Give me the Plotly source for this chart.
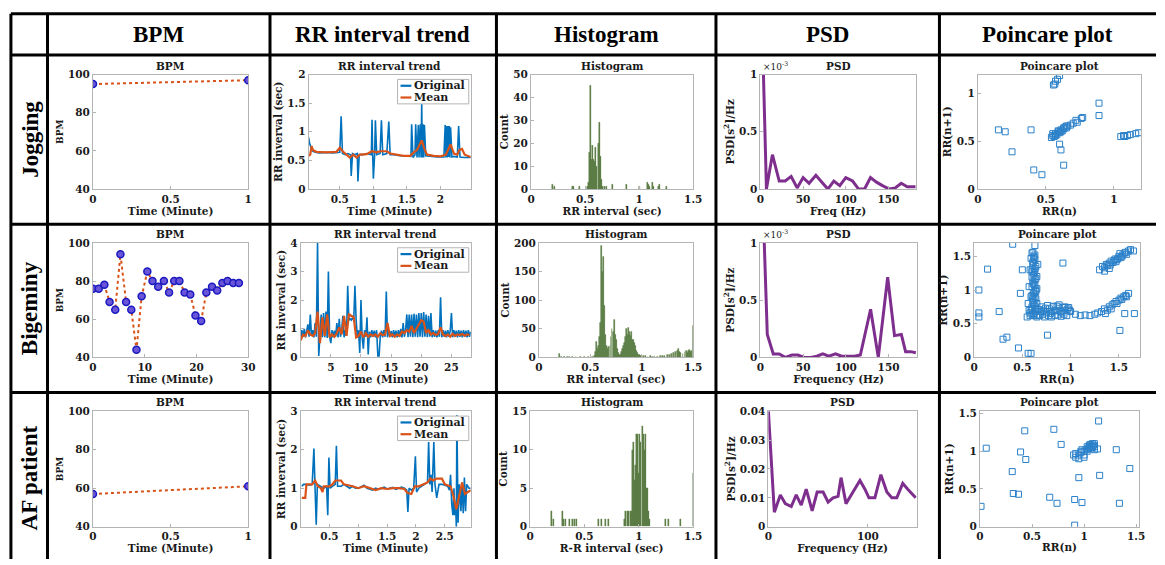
import plotly.graph_objects as go

W, H = 1165, 565
SERIF = "DejaVu Serif"
HEAD = "Liberation Serif"
TXT = "#1a1a1a"

# ------------------------------------------------------------------ data
rows = ["Jogging", "Bigeminy", "AF patient"]
columns = ["BPM", "RR interval trend", "Histogram", "PSD", "Poincare plot"]
legend_names = ["Original", "Mean"]

# BPM
bpm_jog_t = [0, 1]
bpm_jog = [95, 97]
bpm_big_t = [0, 1.1, 2.2, 3.2, 4.3, 5.3, 6.4, 7.4, 8.4, 9.4, 10.5, 11.5, 12.6, 13.7,
             14.7, 15.7, 16.7, 17.7, 18.8, 19.8, 20.9, 21.9, 23.0, 24.0, 25.0, 26.0, 27.1, 28.2]
bpm_big = [76, 76, 78, 69, 65, 94, 69, 65, 44, 72, 85, 80, 77, 80,
           74, 80, 80, 74, 73, 62, 59, 74, 77, 75, 79, 80, 79, 79]
bpm_af_t = [0, 1]
bpm_af = [57, 61]

# RR interval trend - Jogging
rr_jog_t = [0.035, 0.05, 0.08, 0.1, 0.15, 0.2, 0.3, 0.4, 0.5, 0.52, 0.54, 0.58, 0.62, 0.66, 0.67,
            0.69, 0.72, 0.76, 0.77, 0.79, 0.85, 0.9, 0.97, 0.98, 0.99, 1.0, 1.02, 1.03, 1.05, 1.1,
            1.12, 1.14, 1.2, 1.23, 1.25, 1.3, 1.4, 1.5, 1.56, 1.57, 1.59, 1.62, 1.63, 1.65, 1.67,
            1.68, 1.7, 1.71, 1.72, 1.73, 1.74, 1.75, 1.76, 1.78, 1.85, 1.95, 2.05, 2.07, 2.08, 2.09,
            2.1, 2.11, 2.12, 2.13, 2.14, 2.15, 2.17, 2.2, 2.25, 2.27, 2.29, 2.35, 2.45]
rr_jog = [0.9, 0.8, 0.7, 0.66, 0.64, 0.63, 0.64, 0.63, 0.64, 1.27, 0.62, 0.6, 0.62, 0.6, 0.23,
          0.62, 0.6, 0.62, 0.13, 0.6, 0.6, 0.62, 0.6, 1.21, 0.6, 0.18, 0.62, 1.2, 0.6, 0.62,
          1.2, 0.6, 0.62, 1.18, 0.6, 0.6, 0.58, 0.58, 0.57, 1.13, 0.55, 0.6, 1.13, 0.55, 1.12,
          0.55, 1.13, 0.55, 1.5, 0.55, 1.13, 0.55, 1.12, 0.58, 0.57, 0.56, 0.56, 1.12, 0.55, 1.1,
          0.55, 1.1, 0.56, 1.1, 0.55, 1.08, 0.56, 0.57, 0.56, 1.1, 0.56, 0.55, 0.55]
rr_jog_mean_t = [0.035, 0.06, 0.08, 0.1, 0.15, 0.3, 0.45, 0.5, 0.55, 0.6, 0.65, 0.7, 0.75, 0.8,
                 0.9, 0.98, 1.05, 1.1, 1.2, 1.25, 1.35, 1.45, 1.55, 1.6, 1.65, 1.7, 1.72, 1.76,
                 1.8, 1.9, 2.0, 2.08, 2.12, 2.15, 2.2, 2.25, 2.28, 2.32, 2.36, 2.45]
rr_jog_mean = [0.58, 0.6, 0.75, 0.68, 0.65, 0.64, 0.65, 0.72, 0.65, 0.6, 0.55, 0.6, 0.55, 0.6,
               0.61, 0.66, 0.64, 0.66, 0.66, 0.62, 0.6, 0.58, 0.58, 0.64, 0.68, 0.8, 0.85, 0.7,
               0.6, 0.58, 0.57, 0.6, 0.72, 0.78, 0.62, 0.6, 0.68, 0.7, 0.6, 0.56]

# RR interval trend - Bigeminy (one sample every 0.2 min, mean every 0.4 min)
rr_big_step = 0.2
rr_big = [0.62, 0.95, 0.72, 1.00, 0.70, 0.93, 1.15, 0.72, 1.50, 0.75,
          0.95, 0.70, 1.20, 0.72, 4.00, 0.05, 0.90, 1.50, 0.70, 1.55,
          0.70, 1.60, 0.68, 3.00, 0.72, 0.50, 0.95, 0.70, 0.93, 0.72,
          1.20, 0.70, 1.35, 0.72, 0.95, 1.45, 0.70, 0.95, 0.75, 2.50,
          1.30, 1.35, 1.30, 1.38, 1.30, 2.50, 1.30, 0.70, 0.95, 0.15,
          2.00, 0.70, 0.30, 0.95, 0.72, 1.40, 0.10, 0.90, 0.70, 0.95,
          0.72, 0.93, 0.70, 0.95, 0.05, 0.05, 0.72, 0.93, 0.70, 0.95,
          0.72, 2.30, 0.70, 0.95, 0.72, 0.92, 0.70, 0.95, 0.72, 0.93,
          0.70, 0.95, 0.72, 1.00, 0.70, 1.20, 0.72, 0.95, 1.50, 0.70,
          1.50, 0.72, 1.50, 0.70, 1.52, 0.72, 1.50, 0.70, 1.55, 0.72,
          1.55, 0.70, 1.58, 0.72, 1.50, 0.70, 1.45, 0.72, 1.55, 0.70,
          0.95, 0.72, 0.93, 0.70, 0.95, 0.72, 2.10, 0.70, 0.95, 0.72,
          0.93, 0.70, 0.95, 0.72, 0.93, 1.55, 0.70, 0.95, 0.72, 0.93,
          0.70, 0.95, 0.72, 0.93, 0.70, 0.95, 0.72, 0.93, 0.70, 0.95,
          0.72, 0.90]
rr_big_mean_step = 0.4
rr_big_mean = [0.60, 0.80, 0.75, 0.95, 0.80, 0.75, 0.85, 1.60, 0.50, 1.40,
               0.75, 1.50, 0.70, 0.80, 0.72, 0.85, 1.05, 0.80, 1.45, 0.75,
               1.50, 1.45, 1.40, 0.70, 0.75, 0.90, 0.70, 0.85, 0.72, 0.80,
               0.75, 0.80, 0.72, 0.85, 0.78, 0.80, 1.20, 0.75, 0.80, 0.72,
               0.80, 0.75, 0.90, 0.85, 0.95, 0.90, 1.10, 0.85, 1.00, 1.10,
               1.30, 1.25, 0.85, 0.95, 0.80, 0.85, 0.78, 0.82, 1.05, 0.80,
               0.75, 0.80, 0.72, 0.82, 0.75, 0.80, 0.78, 0.82, 0.76, 0.80,
               0.78]

# RR interval trend - AF patient
rr_af_t = [0.02, 0.05, 0.1, 0.15, 0.2, 0.23, 0.25, 0.27, 0.29, 0.35, 0.4, 0.45, 0.47, 0.49, 0.51,
           0.55, 0.6, 0.62, 0.64, 0.7, 0.75, 0.8, 0.85, 0.9, 0.95, 1.0, 1.05, 1.1, 1.15, 1.2,
           1.25, 1.3, 1.35, 1.4, 1.45, 1.5, 1.55, 1.6, 1.65, 1.7, 1.75, 1.8, 1.84, 1.86, 1.88,
           1.92, 1.96, 1.99, 2.01, 2.05, 2.1, 2.15, 2.2, 2.22, 2.24, 2.26, 2.28, 2.31, 2.33, 2.36,
           2.4, 2.45, 2.5, 2.55, 2.58, 2.6, 2.62, 2.64, 2.66, 2.67, 2.69, 2.7, 2.71, 2.73, 2.75,
           2.78, 2.8, 2.82, 2.84, 2.86, 2.88, 2.92, 2.95]
rr_af = [1.05, 1.1, 1.1, 1.08, 1.1, 2.03, 1.0, 0.05, 1.1, 1.05, 1.0, 1.05, 0.3, 1.8, 1.0,
         1.05, 1.1, 2.1, 1.05, 1.05, 1.1, 1.05, 1.0, 1.05, 1.0, 1.0, 1.05, 1.08, 1.0, 0.98,
         0.95, 1.0, 0.97, 1.0, 1.03, 0.98, 1.0, 1.02, 0.97, 1.0, 1.03, 1.0, 0.95, 0.38, 1.0,
         0.95, 1.0, 1.83, 0.9, 1.0, 1.05, 1.1, 1.15, 2.2, 1.1, 1.35, 0.9, 2.2, 1.1, 0.75,
         1.1, 1.1, 1.08, 1.05, 0.95, 1.35, 0.6, 0.3, 1.0, 0.3, 0.5, 0.0, 2.9, 0.1, 1.1,
         0.4, 1.15, 0.35, 1.28, 0.4, 1.1, 1.0, 1.0]
rr_af_mean_t = [0.02, 0.08, 0.1, 0.2, 0.25, 0.3, 0.35, 0.38, 0.4, 0.5, 0.55, 0.6, 0.7, 0.75,
                0.9, 1.0, 1.1, 1.2, 1.3, 1.4, 1.5, 1.6, 1.7, 1.8, 1.85, 1.92, 1.98, 2.05, 2.1,
                2.15, 2.2, 2.25, 2.3, 2.35, 2.45, 2.5, 2.6, 2.65, 2.7, 2.75, 2.8, 2.85, 2.9, 2.95]
rr_af_mean = [0.75, 0.75, 1.1, 1.1, 1.2, 1.05, 1.0, 0.9, 1.05, 1.05, 1.1, 1.2, 1.2, 1.1,
              1.05, 1.0, 1.05, 1.0, 0.95, 1.0, 0.98, 1.0, 1.0, 0.98, 0.88, 0.85, 1.05, 1.05, 1.08,
              1.1, 1.15, 1.25, 1.2, 1.25, 1.25, 1.1, 1.05, 0.8, 0.45, 0.8, 1.15, 0.85, 0.9, 0.95]

# Histograms (bin centre in sec, count)
hist_jog_bin = [0.20, 0.22, 0.38, 0.39, 0.45, 0.52, 0.53, 0.54, 0.55, 0.56, 0.57, 0.58, 0.59,
                0.60, 0.61, 0.62, 0.63, 0.64, 0.65, 0.66, 0.68, 0.70, 0.75, 0.88, 1.00, 1.08,
                1.09, 1.10, 1.12, 1.13, 1.18, 1.19, 1.25]
hist_jog_cnt = [2, 1, 1, 1, 1, 1, 3, 16, 45, 13, 19, 13, 12,
                18, 10, 20, 29, 14, 4, 1, 1, 1, 2, 2, 1, 3,
                2, 1, 3, 1, 1, 2, 1]
hist_big_bin = [0.20, 0.22, 0.25, 0.28, 0.30, 0.33, 0.36, 0.40, 0.44, 0.48, 0.52, 0.54, 0.55,
                0.56, 0.57, 0.58, 0.59, 0.60, 0.61, 0.62, 0.63, 0.64, 0.65, 0.66, 0.67, 0.68,
                0.69, 0.70, 0.71, 0.72, 0.73, 0.74, 0.75, 0.76, 0.77, 0.78, 0.79, 0.80, 0.81,
                0.82, 0.83, 0.84, 0.85, 0.86, 0.87, 0.88, 0.89, 0.90, 0.91, 0.92, 0.93, 0.94,
                0.95, 0.96, 0.97, 0.98, 0.99, 1.00, 1.02, 1.04, 1.06, 1.08, 1.10, 1.12, 1.15,
                1.18, 1.20, 1.22, 1.25, 1.27, 1.29, 1.31, 1.33, 1.35, 1.36, 1.37, 1.38, 1.40,
                1.42, 1.43, 1.44, 1.45, 1.46, 1.47, 1.48, 1.50]
hist_big_cnt = [7, 1, 1, 1, 1, 1, 1, 1, 1, 1, 1, 2, 10,
                27, 15, 20, 35, 60, 195, 150, 175, 90, 40, 20, 15, 18,
                20, 35, 50, 45, 65, 40, 30, 15, 8, 5, 5, 10, 15,
                20, 25, 35, 50, 40, 52, 45, 38, 45, 30, 30, 25, 20,
                12, 8, 5, 4, 3, 3, 2, 2, 1, 2, 1, 1, 1,
                2, 2, 3, 4, 5, 6, 8, 10, 12, 15, 10, 8, 6,
                10, 12, 8, 12, 14, 10, 12, 55]
hist_af_bin = [0.20, 0.22, 0.30, 0.31, 0.33, 0.36, 0.39, 0.41, 0.43, 0.63, 0.66, 0.69, 0.72,
               0.87, 0.88, 0.90, 0.91, 0.92, 0.93, 0.94, 0.95, 0.96, 0.97, 0.98, 0.99, 1.00,
               1.01, 1.02, 1.03, 1.04, 1.05, 1.06, 1.07, 1.08, 1.09, 1.10, 1.25, 1.27, 1.38, 1.50]
hist_af_cnt = [2, 1, 2, 1, 1, 1, 1, 1, 1, 1, 1, 1, 1,
               1, 2, 2, 2, 2, 2, 10, 11, 6, 8, 12, 12, 7,
               12, 11, 13, 12, 10, 12, 5, 5, 2, 1, 1, 1, 1, 7]

# PSD (frequency in Hz, PSD value)
psd_jog_f = [0, 7, 14, 22, 29, 36, 43, 50, 57, 65, 72, 79, 86, 93, 100, 108, 115, 122,
             129, 136, 143, 151, 158, 165, 172, 182]
psd_jog_e3 = [2.0, 0.0, 0.3, 0.07, 0.07, 0.11, 0.01, 0.1, 0.05, 0.12, 0.06, 0.0, 0.07,
              0.03, 0.1, 0.07, 0.0, 0.0, 0.1, 0.06, 0.03, 0.0, 0.01, 0.05, 0.02, 0.02]
psd_big_f = [0, 8, 15, 22, 29, 37, 44, 51, 59, 66, 73, 80, 88, 95, 102, 110, 117, 129, 138,
             149, 157, 165, 170, 176, 182]
psd_big_e3 = [2.0, 0.2, 0.03, 0.03, 0.0, 0.02, 0.02, 0.0, 0.0, 0.01, 0.03, 0.01, 0.03, 0.01,
              0.01, 0.01, 0.02, 0.42, 0.0, 0.7, 0.19, 0.2, 0.05, 0.05, 0.04]
psd_af_f = [0, 6, 12, 17, 23, 28, 33, 38, 44, 49, 55, 60, 65, 70, 73, 78, 85, 92, 97, 101,
            107, 113, 119, 124, 129, 135, 140, 148]
psd_af = [0.040, 0.005, 0.011, 0.008, 0.007, 0.011, 0.0075, 0.013, 0.0055, 0.012, 0.012,
          0.0085, 0.010, 0.0105, 0.017, 0.008, 0.012, 0.016, 0.013, 0.010, 0.010, 0.018,
          0.012, 0.010, 0.010, 0.015, 0.013, 0.010]

# Poincare plots: RR(n), RR(n+1)
pc_jog_x = [0.54, 0.55, 0.56, 0.57, 0.58, 0.59, 0.6, 0.61, 0.62, 0.63, 0.64, 0.65, 0.66, 0.55,
            0.57, 0.59, 0.61, 0.63, 0.65, 0.68, 0.7, 0.72, 0.73, 0.76,
            0.555, 0.565, 0.57, 0.585, 0.6,
            1.05, 1.07, 1.08, 1.1, 1.12, 1.16, 1.18,
            0.15, 0.2, 0.25, 0.39, 0.41, 0.47, 0.6, 0.61, 0.63, 0.89, 0.89, 0.77]
pc_jog_y = [0.54, 0.56, 0.55, 0.58, 0.57, 0.6, 0.59, 0.62, 0.61, 0.63, 0.65, 0.64, 0.66, 0.58,
            0.56, 0.61, 0.6, 0.64, 0.66, 0.67, 0.69, 0.72, 0.7, 0.74,
            1.09, 1.1, 1.13, 1.15, 1.19,
            0.55, 0.56, 0.55, 0.56, 0.57, 0.58, 0.59,
            0.62, 0.6, 0.39, 0.62, 0.2, 0.15, 0.47, 0.41, 0.25, 0.9, 0.77, 0.75]
pc_big_vx = [0.6, 0.62, 0.63, 0.61, 0.64, 0.6, 0.62, 0.65, 0.63, 0.61, 0.6, 0.64, 0.62, 0.63,
             0.61, 0.65, 0.62, 0.6, 0.64, 0.63, 0.62, 0.61, 0.66, 0.63, 0.6, 0.62, 0.64, 0.61,
             0.63, 0.65, 0.62, 0.6, 0.64, 0.61, 0.63, 0.58, 0.57, 0.59, 0.56,
             0.59, 0.61, 0.63, 0.6, 0.62, 0.64, 0.61, 0.59, 0.63, 0.6, 0.62, 0.58, 0.64, 0.61]
pc_big_vy = [1.55, 1.5, 1.45, 1.4, 1.35, 1.3, 1.25, 1.2, 1.15, 1.1, 1.05, 1.0, 0.95, 0.9,
             0.85, 0.8, 0.78, 0.75, 0.72, 1.52, 1.48, 1.42, 1.38, 1.32, 1.27, 1.22, 1.17, 1.12,
             1.07, 1.02, 0.97, 0.92, 0.87, 0.82, 0.76, 1.3, 1.05, 0.9, 0.8,
             1.47, 1.36, 1.28, 1.19, 1.08, 0.98, 0.88, 0.7, 0.68, 0.64, 0.62, 0.66, 0.73, 1.56]
pc_big_hx = [0.55, 0.58, 0.62, 0.66, 0.7, 0.72, 0.75, 0.78, 0.8, 0.82, 0.85, 0.88, 0.9, 0.92,
             0.95, 0.97, 1.0, 0.57, 0.6, 0.65, 0.68, 0.73, 0.77, 0.8, 0.84, 0.87, 0.9, 0.93,
             0.96, 0.7, 0.76, 0.82, 0.88, 0.94, 0.99, 1.05, 1.1, 1.15, 1.2, 1.25,
             0.67, 0.71, 0.74, 0.79, 0.83, 0.86, 0.91, 0.98]
pc_big_hy = [0.6, 0.62, 0.65, 0.63, 0.68, 0.7, 0.66, 0.72, 0.68, 0.75, 0.7, 0.73, 0.68, 0.74,
             0.7, 0.72, 0.68, 0.7, 0.72, 0.6, 0.62, 0.6, 0.62, 0.6, 0.62, 0.63, 0.61, 0.64,
             0.62, 0.75, 0.77, 0.76, 0.78, 0.75, 0.7, 0.64, 0.62, 0.63, 0.62, 0.64,
             0.71, 0.64, 0.73, 0.65, 0.69, 0.76, 0.66, 0.74]
pc_big_ux = [1.3, 1.33, 1.35, 1.37, 1.4, 1.42, 1.44, 1.46, 1.48, 1.5, 1.52, 1.54, 1.56, 1.58,
             1.6, 1.35, 1.38, 1.41, 1.45, 1.49, 1.53, 1.57, 1.62, 1.65, 1.4, 1.47, 1.51]
pc_big_uy = [1.3, 1.35, 1.33, 1.38, 1.4, 1.43, 1.41, 1.46, 1.45, 1.5, 1.48, 1.52, 1.55, 1.53,
             1.58, 1.28, 1.36, 1.37, 1.44, 1.47, 1.5, 1.56, 1.6, 1.58, 1.32, 1.42, 1.54]
pc_big_lx = [1.28, 1.32, 1.35, 1.38, 1.4, 1.43, 1.45, 1.47, 1.5, 1.52, 1.55, 1.57, 1.6, 1.36,
             1.42, 1.48, 1.53, 1.58]
pc_big_ly = [0.66, 0.68, 0.72, 0.7, 0.75, 0.78, 0.8, 0.83, 0.85, 0.88, 0.9, 0.92, 0.95, 0.65,
             0.72, 0.8, 0.86, 0.9]
pc_big_ox = [0.05, 0.05, 0.05, 0.14, 0.26, 0.3, 0.34, 0.46, 0.56, 0.59, 0.4, 0.63, 0.92, 0.76,
             1.51, 1.56, 1.66, 0.5, 0.48]
pc_big_oy = [1.0, 0.66, 0.6, 1.31, 0.68, 0.27, 0.3, 0.14, 0.06, 0.06, 1.68, 1.66, 1.4, 0.33,
             0.4, 0.65, 0.65, 1.3, 0.95]
pc_af_x = [0.9, 0.92, 0.95, 0.97, 1.0, 1.0, 1.02, 1.03, 1.05, 1.06, 1.07, 1.08, 1.09, 1.1,
           1.05, 1.08, 1.1, 1.03, 0.98, 0.95, 1.0, 0.92, 1.04, 1.06, 1.1,
           0.06, 0.01, 0.31, 0.32, 0.37, 0.39, 0.44, 0.43, 0.71, 0.78, 0.67, 0.74, 0.91,
           0.91, 0.98, 0.95, 1.15, 1.31, 1.44, 1.34, 1.14, 1.13, 0.97]
pc_af_y = [0.95, 0.92, 0.95, 1.0, 0.95, 1.0, 1.02, 1.0, 1.05, 1.03, 1.07, 1.05, 1.08, 1.1,
           1.08, 1.1, 1.06, 1.06, 1.02, 0.9, 0.92, 0.97, 1.04, 1.09, 1.02,
           1.04, 0.27, 0.73, 0.44, 0.43, 0.99, 0.89, 1.27, 1.29, 1.09, 0.39, 0.31, 0.02,
           0.36, 0.32, 0.65, 0.68, 1.02, 0.77, 0.31, 1.4, 1.03, 0.98]

# ------------------------------------------------------------------ geometry (pixels)
# axes boxes per [row][col] = (left, right, top, bottom)
boxes = [
    [(90, 247, 70, 187), (308, 472, 70, 187), (533, 697, 70, 187), (765, 922, 70, 187), (985, 1150, 70, 187)],
    [(90, 247, 242, 359), (300, 472, 242, 359), (541, 697, 242, 359), (765, 923, 242, 359), (981, 1149, 242, 359)],
    [(90, 247, 414, 532), (300, 472, 414, 532), (532, 697, 414, 532), (773, 923, 414, 532), (987, 1148, 414, 532)],
]
col_lines = [7, 44, 269, 498, 720, 946]
row_lines = [8, 50, 223, 395]
col_centres = [156, 383, 609, 833, 1055]
row_centres = [136, 309, 482]

BLUE = "#0072BD"
ORANGE = "#D95319"
PURPLE = "#7E2F8E"
GREEN = "#2c4f15"

fig = go.Figure()
layout = {}
annotations = []
shapes = []


def ax_id(k):
    return ("x" if k == 1 else f"x{k}"), ("y" if k == 1 else f"y{k}")


def axis_style(title, rng, ticks, size=10.5, tsize=10.5):
    return dict(
        range=rng, tickvals=ticks, showline=True, linecolor="#b4b4b4", linewidth=1,
        mirror=True, ticks="inside", ticklen=3, tickcolor="#b4b4b4", showgrid=False,
        zeroline=False, fixedrange=True,
        tickfont=dict(family=SERIF, size=tsize, color=TXT, weight="bold"),
        title=dict(text=title, font=dict(family=SERIF, size=size, color=TXT, weight="bold"),
                   standoff=2),
    )


panel_cfg = [
    # row 0 Jogging
    [dict(x=("Time (Minute)", [0, 1], [0, 0.5, 1]), y=("BPM", [40, 100], [40, 60, 80, 100]), ys=9),
     dict(x=("Time (Minute)", [0.035, 2.45], [0.5, 1, 1.5, 2]), y=("RR inverval (sec)", [0, 2], [0, 0.5, 1, 1.5, 2]), ys=10.5),
     dict(x=("RR interval (sec)", [0, 1.5], [0, 0.5, 1, 1.5]), y=("Count", [0, 50], [0, 10, 20, 30, 40, 50]), ys=10.5),
     dict(x=("Freq (Hz)", [0, 182], [0, 50, 100, 150]), y=("PSD[s<sup>2</sup>]/Hz", [0, 1], [0, 0.5, 1]), ys=10.5),
     dict(x=("RR(n)", [0, 1.2], [0, 0.5, 1]), y=("RR(n+1)", [0, 1.2], [0, 0.5, 1]), ys=10.5)],
    # row 1 Bigeminy
    [dict(x=("Time (Minute)", [0, 30], [0, 10, 20, 30]), y=("BPM", [40, 100], [40, 60, 80, 100]), ys=9),
     dict(x=("Time (Minute)", [0, 28.2], [5, 10, 15, 20, 25]), y=("RR inverval (sec)", [0, 4], [0, 1, 2, 3, 4]), ys=10.5),
     dict(x=("RR interval (sec)", [0, 1.5], [0, 0.5, 1, 1.5]), y=("Count", [0, 200], [0, 50, 100, 150, 200]), ys=10.5),
     dict(x=("Frequency (Hz)", [0, 183], [0, 50, 100, 150]), y=("PSD[s<sup>2</sup>]/Hz", [0, 1], [0, 0.5, 1]), ys=10.5),
     dict(x=("RR(n)", [0, 1.72], [0, 0.5, 1, 1.5]), y=("RR(n+1)", [0, 1.7], [0, 0.5, 1, 1.5]), ys=10.5)],
    # row 2 AF patient
    [dict(x=("Time (Minute)", [0, 1], [0, 0.5, 1]), y=("BPM", [40, 100], [40, 60, 80, 100]), ys=9),
     dict(x=("Time (Minute)", [0, 2.95], [0.5, 1, 1.5, 2, 2.5]), y=("RR inverval (sec)", [0, 3], [0, 1, 2, 3]), ys=10.5),
     dict(x=("R-R interval (sec)", [0, 1.5], [0, 0.5, 1, 1.5]), y=("Count", [0, 15], [0, 5, 10, 15]), ys=10.5),
     dict(x=("Frequency (Hz)", [0, 149], [0, 100]), y=("PSD[s<sup>2</sup>]/Hz", [0, 0.04], [0, 0.01, 0.02, 0.03, 0.04]), ys=10.5),
     dict(x=("RR(n)", [0, 1.53], [0, 0.5, 1, 1.5]), y=("RR(n+1)", [0, 1.53], [0, 0.5, 1, 1.5]), ys=10.5)],
]

for r in range(3):
    for c in range(5):
        k = r * 5 + c + 1
        L, R, T, B = boxes[r][c]
        cfg = panel_cfg[r][c]
        xa = axis_style(*cfg["x"])
        ya = axis_style(*cfg["y"], size=cfg["ys"])
        xa.update(domain=[L / W, R / W], anchor=ax_id(k)[1])
        ya.update(domain=[1 - B / H, 1 - T / H], anchor=ax_id(k)[0])
        layout["xaxis" if k == 1 else f"xaxis{k}"] = xa
        layout["yaxis" if k == 1 else f"yaxis{k}"] = ya
        annotations.append(dict(
            text=columns[c], x=(L + R) / 2 / W, y=1 - (T - 1) / H, xref="paper", yref="paper",
            xanchor="center", yanchor="bottom", showarrow=False,
            font=dict(family=SERIF, size=10.5, color=TXT, weight="bold")))
        if c == 3 and r < 2:
            annotations.append(dict(
                text="×10<sup>-3</sup>", x=(L + 1) / W, y=1 - (T - 1) / H, xref="paper", yref="paper",
                xanchor="left", yanchor="bottom", showarrow=False,
                font=dict(family=SERIF, size=9, color=TXT)))


def add(trace, r, c):
    xk, yk = ax_id(r * 5 + c + 1)
    trace.update(xaxis=xk, yaxis=yk)
    fig.add_trace(trace)


def bpm_trace(t, v):
    return go.Scatter(x=t, y=v, mode="lines+markers", showlegend=False,
                      line=dict(color=ORANGE, width=2, dash="dot"),
                      marker=dict(symbol="circle", size=7, color="#6a55d8",
                                  line=dict(color="#1a1ac0", width=1.5)))


add(bpm_trace(bpm_jog_t, bpm_jog), 0, 0)
add(bpm_trace(bpm_big_t, bpm_big), 1, 0)
add(bpm_trace(bpm_af_t, bpm_af), 2, 0)

rr_sets = [
    (dict(x=rr_jog_t, y=rr_jog), dict(x=rr_jog_mean_t, y=rr_jog_mean)),
    (dict(y=rr_big, x0=0, dx=rr_big_step), dict(y=rr_big_mean, x0=0, dx=rr_big_mean_step)),
    (dict(x=rr_af_t, y=rr_af), dict(x=rr_af_mean_t, y=rr_af_mean)),
]
legend_colours = [BLUE, ORANGE]
for r, (orig, mean) in enumerate(rr_sets):
    add(go.Scatter(**orig, mode="lines", name=legend_names[0], showlegend=False,
                   line=dict(color=BLUE, width=1.6)), r, 1)
    add(go.Scatter(**mean, mode="lines", name=legend_names[1], showlegend=False,
                   line=dict(color=ORANGE, width=2.2)), r, 1)
    # compact MATLAB-style legend box in the top-right corner
    L, R, T, B = boxes[r][1]
    bx0, bx1, by0, by1 = R - 74, R - 2, T + 5, T + 30
    shapes.append(dict(type="rect", xref="paper", yref="paper", x0=bx0 / W, x1=bx1 / W,
                       y0=1 - by1 / H, y1=1 - by0 / H, fillcolor="white",
                       line=dict(color="#b4b4b4", width=1), layer="above"))
    for i, (nm, colr) in enumerate(zip(legend_names, legend_colours)):
        yy = by0 + 6.5 + i * 12
        shapes.append(dict(type="line", xref="paper", yref="paper", x0=(bx0 + 3) / W,
                           x1=(bx0 + 14) / W, y0=1 - yy / H, y1=1 - yy / H, layer="above",
                           line=dict(color=colr, width=2.2)))
        annotations.append(dict(text=nm, x=(bx0 + 15) / W, y=1 - yy / H, xref="paper", yref="paper",
                                xanchor="left", yanchor="middle", showarrow=False,
                                font=dict(family=SERIF, size=11, color=TXT, weight="bold")))

for r, (b, cnt) in enumerate([(hist_jog_bin, hist_jog_cnt), (hist_big_bin, hist_big_cnt),
                              (hist_af_bin, hist_af_cnt)]):
    add(go.Bar(x=b, y=cnt, width=0.009, showlegend=False, marker=dict(
        color=GREEN, line=dict(color="#6f9157", width=0.5))), r, 2)

for r, (f, p) in enumerate([(psd_jog_f, psd_jog_e3), (psd_big_f, psd_big_e3), (psd_af_f, psd_af)]):
    add(go.Scatter(x=f, y=p, mode="lines", showlegend=False,
                   line=dict(color=PURPLE, width=3)), r, 3)

sq = dict(symbol="square-open", size=6, color="#2b80c9", line=dict(width=1))
add(go.Scatter(x=pc_jog_x, y=pc_jog_y, mode="markers", showlegend=False, marker=sq), 0, 4)
for xs, ys in [(pc_big_vx, pc_big_vy), (pc_big_hx, pc_big_hy), (pc_big_ux, pc_big_uy),
               (pc_big_lx, pc_big_ly), (pc_big_ox, pc_big_oy)]:
    add(go.Scatter(x=xs, y=ys, mode="markers", showlegend=False, marker=sq), 1, 4)
add(go.Scatter(x=pc_af_x, y=pc_af_y, mode="markers", showlegend=False, marker=sq), 2, 4)

# table headers and row labels
for c, name in enumerate(columns):
    annotations.append(dict(text=name, x=col_centres[c] / W, y=1 - 29 / H, xref="paper", yref="paper",
                            xanchor="center", yanchor="middle", showarrow=False,
                            font=dict(family=HEAD, size=23, color="black", weight="bold")))
for r, name in enumerate(rows):
    annotations.append(dict(text=name, x=26 / W, y=1 - row_centres[r] / H, xref="paper", yref="paper",
                            xanchor="center", yanchor="middle", showarrow=False, textangle=-90,
                            font=dict(family=HEAD, size=23, color="black", weight="bold")))

for xv in col_lines:
    shapes.append(dict(type="line", xref="paper", yref="paper", x0=xv / W, x1=xv / W,
                       y0=0, y1=1 - row_lines[0] / H, line=dict(color="black", width=3)))
for yv in row_lines:
    shapes.append(dict(type="line", xref="paper", yref="paper", x0=col_lines[0] / W, x1=1,
                       y0=1 - yv / H, y1=1 - yv / H, line=dict(color="black", width=3)))

fig.update_layout(
    width=W, height=H, margin=dict(l=0, r=0, t=0, b=0), showlegend=False,
    paper_bgcolor="white", plot_bgcolor="white", bargap=0,
    font=dict(family=SERIF, color=TXT),
    annotations=annotations, shapes=shapes, **layout)

fig.write_html("out.html")
